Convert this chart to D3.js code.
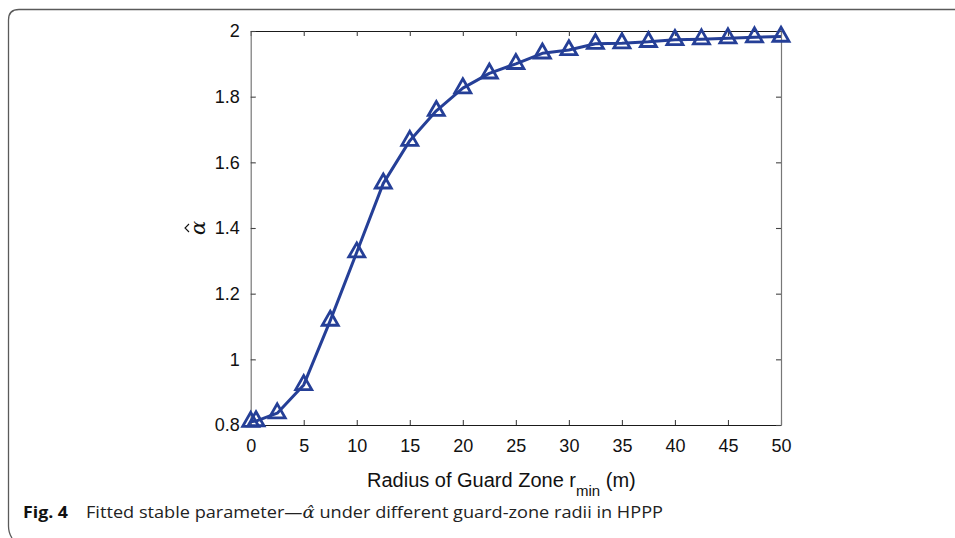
<!DOCTYPE html>
<html><head><meta charset="utf-8">
<script src="https://cdn.jsdelivr.net/npm/d3@7"></script>
<style>
html,body{margin:0;padding:0;background:#fff;}
svg{display:block;}
</style></head>
<body>
<svg id="chart" width="955" height="538"></svg>
<script>
// ---- data ----
const radii = [0, 0.5, 2.5, 5, 7.5, 10, 12.5, 15, 17.5, 20, 22.5, 25, 27.5, 30, 32.5, 35, 37.5, 40, 42.5, 45, 47.5, 50];
const alphaHat = [0.810, 0.812, 0.836, 0.922, 1.118, 1.326, 1.536, 1.666, 1.757, 1.826, 1.871, 1.900, 1.932, 1.942, 1.961, 1.963, 1.967, 1.973, 1.975, 1.978, 1.981, 1.983];
const xTicks = [0, 5, 10, 15, 20, 25, 30, 35, 40, 45, 50];
const yTicks = [0.8, 1, 1.2, 1.4, 1.6, 1.8, 2];
const xLabelMain = "Radius of Guard Zone r";
const xLabelSub = "min";
const xLabelUnit = " (m)";
const yLabel = "α";
const captionBold = "Fig. 4";
const captionPre = "Fitted stable parameter—";
const captionSym = "α\u0302";
const captionPost = " under different guard-zone radii in HPPP";

// ---- layout ----
const L = 250.7, R = 781, T = 31, B = 425;
const svg = d3.select("#chart");
const x = d3.scaleLinear().domain([0, 50]).range([L, R]);
const y = d3.scaleLinear().domain([0.8, 2]).range([B, T]);
const FONT = "'Liberation Sans', Arial, Helvetica, sans-serif";
const blue = "#253f97";

// frame
svg.append("path")
  .attr("d", "M955,9.5 L19,9.5 Q8.5,9.5 8.5,20 L8.5,526 Q8.5,533 12,538")
  .attr("fill", "none").attr("stroke", "#5a5a5a").attr("stroke-width", 1.3);

// axes
const tickLen = 5;
const xAxisB = d3.axisBottom(x).tickValues(xTicks).tickSizeInner(-tickLen).tickSizeOuter(0).tickPadding(14).tickFormat(d3.format("d"));
const xAxisT = d3.axisTop(x).tickValues(xTicks).tickSizeInner(-tickLen).tickSizeOuter(0).tickFormat("");
const yAxisL = d3.axisLeft(y).tickValues(yTicks).tickSizeInner(-tickLen).tickSizeOuter(0).tickPadding(11).tickFormat(d => d3.format("")(+d.toFixed(1)));
const yAxisR = d3.axisRight(y).tickValues(yTicks).tickSizeInner(-tickLen).tickSizeOuter(0).tickFormat("");

function styleAxis(g, col) {
  g.select(".domain").attr("stroke", col).attr("stroke-width", 1.2);
  g.selectAll(".tick line").attr("stroke", "#444").attr("stroke-width", 1.1);
  g.selectAll("text").attr("font-family", FONT).attr("font-size", 18).attr("fill", "#111");
}
const gB = svg.append("g").attr("transform", `translate(0,${B})`).call(xAxisB);
styleAxis(gB, "#1a1a1a");
gB.selectAll("text").attr("dy", "0.71em");
const gT = svg.append("g").attr("transform", `translate(0,${T})`).call(xAxisT);
styleAxis(gT, "#1a1a1a");
const gL = svg.append("g").attr("transform", `translate(${L},0)`).call(yAxisL);
styleAxis(gL, "#777");
const gR = svg.append("g").attr("transform", `translate(${R},0)`).call(yAxisR);
styleAxis(gR, "#777");

// line
const pts = radii.map((r, i) => [r, alphaHat[i]]);
svg.append("path").datum(pts)
  .attr("d", d3.line().x(d => x(d[0])).y(d => y(d[1])))
  .attr("fill", "none").attr("stroke", blue).attr("stroke-width", 3).attr("stroke-linejoin", "round");

// triangle markers (centroid at data point)
const hw = 8, h = 14;
const tri = `M0,${-2*h/3} L${hw},${h/3} L${-hw},${h/3} Z`;
svg.append("g").selectAll("path").data(pts).join("path")
  .attr("transform", d => `translate(${x(d[0])},${y(d[1])})`)
  .attr("d", tri)
  .attr("fill", "none").attr("stroke", blue).attr("stroke-width", 2.8).attr("stroke-linejoin", "miter");

// y label (rotated alpha with hat)
const yl = svg.append("g").attr("transform", `translate(199,228) rotate(-90)`);
yl.append("text")
  .attr("x", 0).attr("y", 6)
  .attr("text-anchor", "middle")
  .attr("font-family", "'DejaVu Serif', serif").attr("font-style", "italic")
  .attr("font-size", 21).attr("fill", "#111")
  .text(yLabel);
yl.append("path")
  .attr("d", "M-4,-10 L0,-14 L4,-10")
  .attr("fill", "none").attr("stroke", "#111").attr("stroke-width", 1.1);

// x label
const xl = svg.append("text")
  .attr("x", 367).attr("y", 487)
  .attr("font-family", FONT).attr("font-size", 20).attr("fill", "#111");
xl.append("tspan").text(xLabelMain);
xl.append("tspan").attr("font-size", 15).attr("dy", 9).text(xLabelSub);
xl.append("tspan").attr("dy", -9).text(xLabelUnit);

// caption
svg.append("text")
  .attr("x", 23).attr("y", 518)
  .attr("font-family", "'Open Sans', sans-serif").attr("font-weight", "bold")
  .attr("font-size", 16).attr("fill", "#111")
  .attr("textLength", 45).attr("lengthAdjust", "spacingAndGlyphs")
  .text(captionBold);
const cap = svg.append("text")
  .attr("x", 86).attr("y", 518)
  .attr("font-family", "'Open Sans', sans-serif")
  .attr("font-size", 16).attr("fill", "#222")
  .attr("textLength", 577).attr("lengthAdjust", "spacingAndGlyphs");
cap.append("tspan").text(captionPre);
cap.append("tspan").attr("font-style", "italic").attr("font-family", "'DejaVu Serif', serif").text(captionSym);
cap.append("tspan").text(captionPost);
</script>
</body></html>
